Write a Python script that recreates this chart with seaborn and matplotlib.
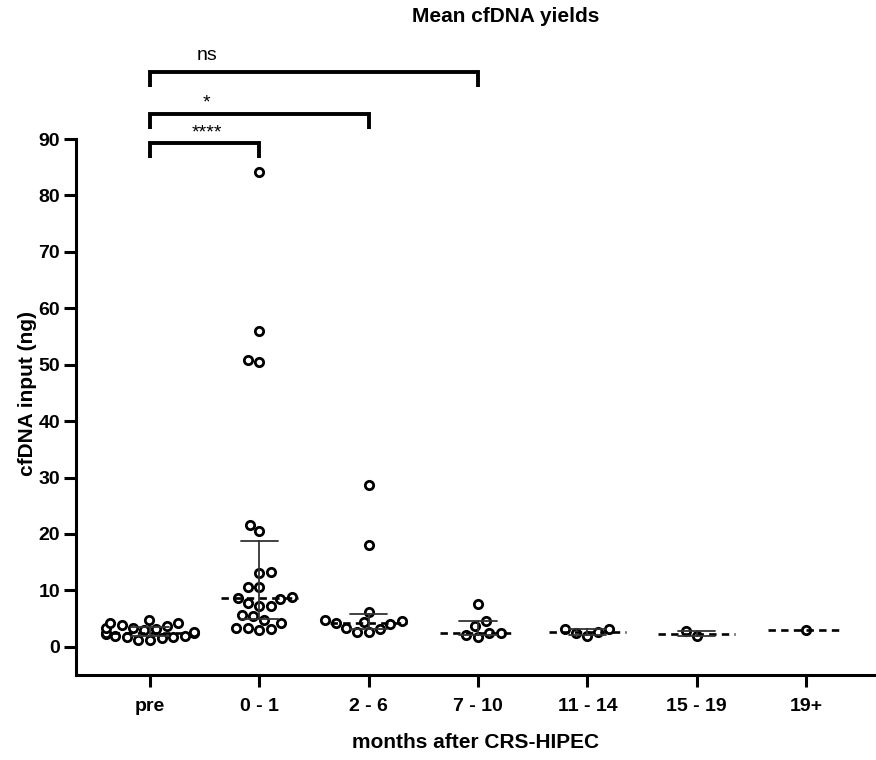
import numpy as np
import pandas as pd
import matplotlib
matplotlib.use("Agg")
import matplotlib.pyplot as plt
import seaborn as sns

# groups on the x axis (months after surgery)
groups = ["pre", "0 - 1", "2 - 6", "7 - 10", "11 - 14", "15 - 19", "19+"]

# cfDNA input (ng) per sample
pre = [1.2, 1.2, 1.5, 1.7, 1.8, 1.9, 2.0, 2.2, 2.4, 2.4,
       2.6, 2.9, 3.2, 3.3, 3.4, 3.6, 3.9, 4.2, 4.3, 4.8]
m0_1 = [3.0, 3.2, 3.3, 3.4, 4.3, 4.8, 5.5, 5.7, 7.3, 7.3, 7.8, 8.5,
        8.7, 8.9, 10.6, 10.6, 13.1, 13.3, 20.5, 21.6, 50.5, 50.8, 56.0, 84.1]
m2_6 = [2.6, 2.6, 3.1, 3.3, 4.0, 4.2, 4.4, 4.5, 4.7, 6.2, 18.1, 28.6]
m7_10 = [1.8, 2.1, 2.5, 2.5, 3.7, 4.5, 7.6]
m11_14 = [1.9, 2.4, 2.7, 3.1, 3.1]
m15_19 = [1.9, 2.8]
m19 = [3.0]

# significance brackets: (right group index, label)
brackets = [(3, "ns"), (2, "*"), (1, "****")]
bracket_y = [101.9, 94.5, 89.3]

values = [pre, m0_1, m2_6, m7_10, m11_14, m15_19, m19]
df = pd.DataFrame({
    "group": np.repeat(groups, [len(v) for v in values]),
    "ng": np.concatenate(values),
})


def iqr(v):
    # GraphPad style quartiles
    return (np.percentile(v, 25, method="weibull"),
            np.percentile(v, 75, method="weibull"))


sns.set_style("ticks")
plt.rcParams["font.family"] = ["Liberation Sans", "DejaVu Sans"]
plt.rcParams.update({"text.color": "black", "axes.labelcolor": "black",
                     "xtick.color": "black", "ytick.color": "black",
                     "axes.edgecolor": "black"})

fig = plt.figure(figsize=(8.76, 7.6), dpi=100)
ax = fig.add_axes([76 / 876, 1 - 675 / 760, 800 / 876, (675 - 139) / 760])

sns.swarmplot(data=df, x="group", y="ng", order=groups, ax=ax,
              size=6, color="white", edgecolor="black", linewidth=2.0,
              zorder=2)

sns.pointplot(data=df, x="group", y="ng", order=groups, ax=ax,
              estimator="median", errorbar=iqr, capsize=0.34,
              color="#333333", markers="none", linestyles="none",
              err_kws={"linewidth": 1.3}, zorder=4)

# dashed median lines
med = df.groupby("group", sort=False)["ng"].median().reindex(groups)
pos = np.arange(len(groups))
ax.hlines(med.values, pos - 0.35, pos + 0.35, colors="black",
          linewidth=1.9, linestyles=(0, (2.8, 2.0)), zorder=3)

# brackets above the plot
for (right, label), yb in zip(brackets, bracket_y):
    ax.plot([0, 0, right, right], [yb - 2.7, yb, yb, yb - 2.7],
            color="black", linewidth=2.8, clip_on=False,
            solid_joinstyle="miter", solid_capstyle="butt")
    ax.text(0.52, yb + 2.9 if label == "ns" else yb + 1.8, label,
            ha="center", va="center", fontsize=14, clip_on=False)

ax.set_ylim(-5, 90)
ax.set_xlim(-0.677, 6.64)
ax.set_yticks(range(0, 91, 10))

for s in ["top", "right"]:
    ax.spines[s].set_visible(False)
for s in ["left", "bottom"]:
    ax.spines[s].set_linewidth(2.2)
ax.tick_params(width=2.2, length=8.5, labelsize=14)
ax.tick_params(axis="x", pad=8)
ax.tick_params(axis="y", pad=3)
for t in ax.get_xticklabels() + ax.get_yticklabels():
    t.set_fontweight("bold")

ax.set_xlabel("months after CRS-HIPEC", fontsize=15, fontweight="bold",
              labelpad=13)
ax.set_ylabel("cfDNA input (ng)", fontsize=15, fontweight="bold")
ax.yaxis.set_label_coords(-0.049, 0.526)

fig.text(506 / 876, 1 - 17 / 760, "Mean cfDNA yields", ha="center",
         va="center", fontsize=15, fontweight="bold")

fig.savefig("out.png", dpi=100)
